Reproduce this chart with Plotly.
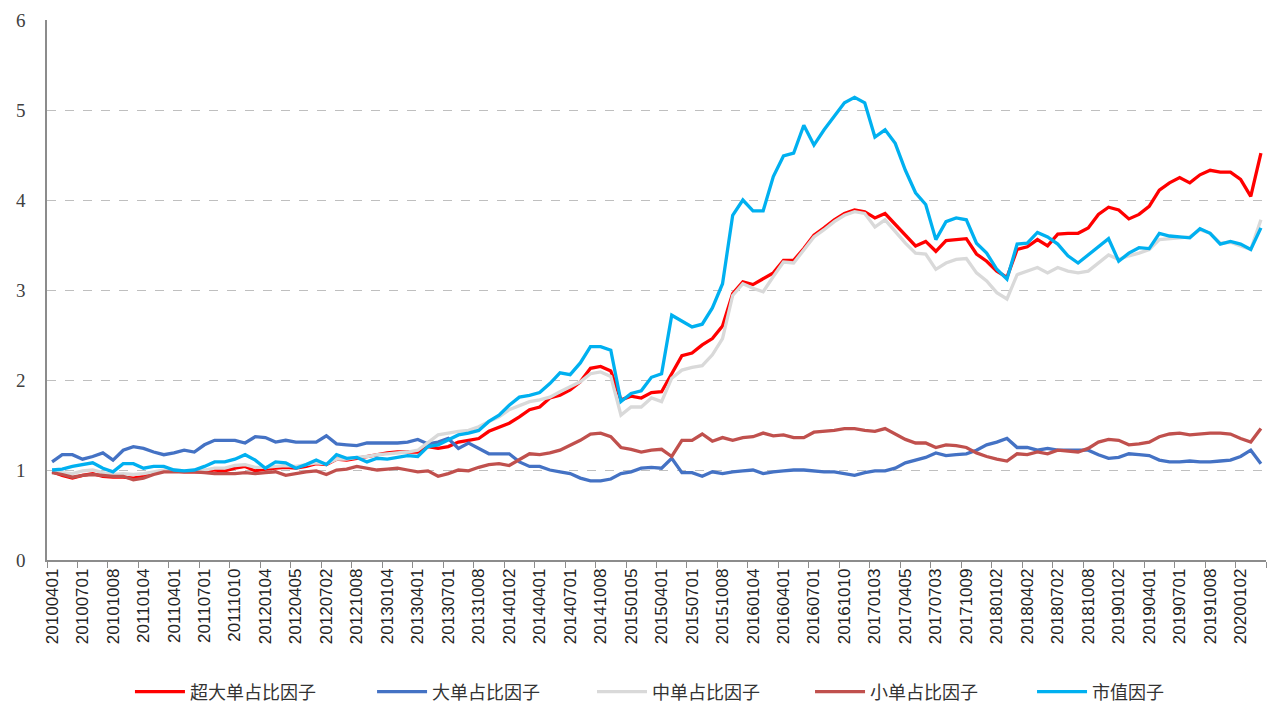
import plotly.graph_objects as go

quarter_labels = [
    "20100401", "20100701", "20101008", "20110104", "20110401", "20110701", "20111010",
    "20120104", "20120405", "20120702", "20121008", "20130104", "20130401", "20130701",
    "20131008", "20140102", "20140401", "20140701", "20141008", "20150105", "20150401",
    "20150701", "20151008", "20160104", "20160401", "20160701", "20161010", "20170103",
    "20170405", "20170703", "20171009", "20180102", "20180402", "20180702", "20181008",
    "20190102", "20190401", "20190701", "20191008", "20200102",
]

super_large = [
    0.98, 0.94, 0.91, 0.94, 0.96, 0.93, 0.92, 0.92, 0.91, 0.93,
    0.96, 0.99, 0.99, 0.98, 0.98, 0.98, 1.00, 0.99, 1.02, 1.04,
    0.99, 1.01, 1.02, 1.03, 1.02, 1.04, 1.07, 1.06, 1.12, 1.11,
    1.13, 1.15, 1.17, 1.19, 1.20, 1.20, 1.20, 1.26, 1.24, 1.26,
    1.31, 1.33, 1.35, 1.43, 1.48, 1.52, 1.59, 1.67, 1.70, 1.80,
    1.83, 1.89, 1.98, 2.13, 2.15, 2.10, 1.78, 1.82, 1.80, 1.86,
    1.87, 2.07, 2.27, 2.30, 2.39, 2.46, 2.60, 2.96, 3.09, 3.06,
    3.13, 3.19, 3.33, 3.33, 3.46, 3.61, 3.69, 3.78, 3.85, 3.89,
    3.87, 3.80, 3.85, 3.73, 3.60, 3.49, 3.54, 3.43, 3.55, 3.56,
    3.57, 3.40, 3.32, 3.21, 3.14, 3.45, 3.48, 3.56, 3.49, 3.62,
    3.63, 3.63, 3.69, 3.84, 3.92, 3.89, 3.79, 3.84, 3.93, 4.11,
    4.19, 4.25, 4.19, 4.28, 4.33, 4.31, 4.31, 4.23, 4.04, 4.52,
]

large = [
    1.09, 1.17, 1.17, 1.12, 1.15, 1.19, 1.11, 1.22, 1.26, 1.24,
    1.20, 1.17, 1.19, 1.22, 1.20, 1.28, 1.33, 1.33, 1.33, 1.30,
    1.37, 1.36, 1.31, 1.33, 1.31, 1.31, 1.31, 1.38, 1.29, 1.28,
    1.27, 1.30, 1.30, 1.30, 1.30, 1.31, 1.34, 1.29, 1.31, 1.35,
    1.24, 1.30, 1.24, 1.18, 1.18, 1.18, 1.09, 1.04, 1.04, 1.00,
    0.98, 0.96, 0.91, 0.88, 0.88, 0.90, 0.96, 0.98, 1.02, 1.03,
    1.02, 1.13, 0.97, 0.97, 0.93, 0.98, 0.96, 0.98, 0.99, 1.00,
    0.96, 0.98, 0.99, 1.00, 1.00, 0.99, 0.98, 0.98, 0.96, 0.94,
    0.97, 0.99, 0.99, 1.02, 1.08, 1.11, 1.14, 1.19, 1.16, 1.17,
    1.18, 1.22, 1.28, 1.31, 1.35, 1.25, 1.25, 1.22, 1.24, 1.22,
    1.22, 1.22, 1.22, 1.17, 1.13, 1.14, 1.18, 1.17, 1.16, 1.11,
    1.09, 1.09, 1.10, 1.09, 1.09, 1.10, 1.11, 1.15, 1.22, 1.07,
]

medium = [
    1.00, 0.97, 0.96, 0.99, 1.00, 0.97, 0.95, 0.96, 0.95, 0.96,
    0.98, 1.00, 1.00, 0.99, 0.99, 1.00, 1.02, 1.02, 1.05, 1.06,
    1.03, 1.03, 1.04, 1.05, 1.04, 1.06, 1.08, 1.07, 1.12, 1.12,
    1.14, 1.15, 1.17, 1.18, 1.19, 1.20, 1.22, 1.31, 1.39, 1.41,
    1.43, 1.44, 1.48, 1.54, 1.59, 1.67, 1.72, 1.76, 1.78, 1.81,
    1.87, 1.93, 1.98, 2.07, 2.09, 2.04, 1.61, 1.70, 1.70, 1.80,
    1.76, 2.02, 2.11, 2.14, 2.16, 2.28, 2.46, 2.94, 3.07, 3.02,
    2.98, 3.15, 3.31, 3.30, 3.44, 3.59, 3.67, 3.76, 3.83, 3.87,
    3.85, 3.70, 3.78, 3.65, 3.52, 3.41, 3.40, 3.23, 3.30, 3.34,
    3.35, 3.19, 3.10, 2.97, 2.90, 3.17, 3.21, 3.25, 3.19, 3.25,
    3.21, 3.19, 3.21, 3.30, 3.39, 3.34, 3.38, 3.41, 3.45, 3.56,
    3.57, 3.58, 3.59, 3.67, 3.63, 3.52, 3.53, 3.49, 3.45, 3.78,
]

small = [
    0.97, 0.95, 0.92, 0.94, 0.95, 0.94, 0.93, 0.93, 0.89, 0.91,
    0.95, 0.98, 0.98, 0.98, 0.98, 0.97, 0.96, 0.96, 0.96, 0.97,
    0.96, 0.97, 0.98, 0.94, 0.96, 0.98, 0.99, 0.95, 1.00, 1.01,
    1.04, 1.02, 1.00, 1.01, 1.02, 1.00, 0.98, 0.99, 0.93, 0.96,
    1.00, 0.99, 1.03, 1.06, 1.07, 1.05, 1.12, 1.18, 1.17, 1.19,
    1.22, 1.27, 1.33, 1.40, 1.41, 1.37, 1.25, 1.23, 1.20, 1.22,
    1.23, 1.15, 1.33, 1.33, 1.40, 1.32, 1.36, 1.33, 1.36, 1.37,
    1.41, 1.38, 1.39, 1.36, 1.36, 1.42, 1.43, 1.44, 1.46, 1.46,
    1.44, 1.43, 1.46, 1.40, 1.34, 1.30, 1.30, 1.25, 1.28, 1.27,
    1.25, 1.19, 1.15, 1.12, 1.10, 1.18, 1.17, 1.20, 1.18, 1.22,
    1.21, 1.20, 1.24, 1.31, 1.34, 1.33, 1.28, 1.29, 1.31, 1.37,
    1.40, 1.41, 1.39, 1.40, 1.41, 1.41, 1.40, 1.35, 1.31, 1.46,
]

market_cap = [
    1.00, 1.01, 1.04, 1.06, 1.08, 1.02, 0.98, 1.07, 1.07, 1.02,
    1.04, 1.04, 1.00, 0.99, 1.00, 1.04, 1.09, 1.09, 1.12, 1.17,
    1.11, 1.02, 1.09, 1.08, 1.02, 1.06, 1.11, 1.06, 1.17, 1.13,
    1.14, 1.09, 1.13, 1.12, 1.14, 1.16, 1.15, 1.26, 1.28, 1.33,
    1.39, 1.41, 1.44, 1.54, 1.61, 1.72, 1.81, 1.83, 1.86, 1.96,
    2.08, 2.06, 2.19, 2.37, 2.37, 2.33, 1.76, 1.85, 1.88, 2.03,
    2.07, 2.72, 2.65, 2.59, 2.62, 2.80, 3.07, 3.83, 4.00, 3.88,
    3.88, 4.26, 4.49, 4.52, 4.83, 4.61, 4.78, 4.93, 5.08, 5.14,
    5.08, 4.70, 4.78, 4.63, 4.33, 4.08, 3.95, 3.56, 3.76, 3.80,
    3.78, 3.52, 3.41, 3.23, 3.12, 3.51, 3.52, 3.64, 3.59, 3.51,
    3.38, 3.30, 3.39, 3.49, 3.57, 3.32, 3.41, 3.47, 3.46, 3.63,
    3.60, 3.59, 3.58, 3.68, 3.63, 3.51, 3.54, 3.51, 3.45, 3.69,
]

series_names = ["超大单占比因子", "大单占比因子", "中单占比因子", "小单占比因子", "市值因子"]
series_values = [super_large, large, medium, small, market_cap]
series_colors = ["#FF0000", "#4472C4", "#D9D9D9", "#C0504D", "#00B0F0"]
legend_ids = ["legend", "legend2", "legend3", "legend4", "legend5"]
legend_x = [0.0952, 0.2842, 0.4559, 0.6261, 0.7994]

n = len(super_large)
x = list(range(n))

fig = go.Figure()
for name, vals, col, lid in zip(series_names, series_values, series_colors, legend_ids):
    fig.add_trace(go.Scatter(
        x=x, y=vals, mode="lines", name=name, legend=lid,
        line=dict(color=col, width=3.3),
    ))

legend_common = dict(
    orientation="h", xref="container", xanchor="left",
    yref="container", y=0.05, yanchor="middle",
    font=dict(family="Noto Sans CJK SC", size=18, color="#333333"),
    itemwidth=50, bgcolor="rgba(0,0,0,0)",
)

layout_legends = {lid: dict(legend_common, x=lx) for lid, lx in zip(legend_ids, legend_x)}

fig.update_layout(
    width=1281, height=720,
    margin=dict(l=39, r=23, t=12, b=168, autoexpand=False),
    paper_bgcolor="white", plot_bgcolor="white",
    showlegend=True,
    **layout_legends,
)

fig.update_xaxes(
    range=[-0.5, n - 0.5],
    tickmode="array",
    tickvals=list(range(0, n, 3)),
    ticktext=quarter_labels,
    tickangle=-90,
    ticks="",
    automargin=False,
    tickfont=dict(family="Liberation Sans", size=17, color="#222222"),
    showgrid=False, zeroline=False,
    showline=True, linecolor="#8C8C8C", linewidth=1.5,
    minor=dict(ticks="outside", ticklen=6, tickcolor="#8C8C8C", tick0=-0.5, dtick=3, showgrid=False),
)

fig.update_yaxes(
    range=[0, 6],
    tickvals=[0, 1, 2, 3, 4, 5, 6],
    ticks="",
    automargin=False,
    tickfont=dict(family="Liberation Serif", size=19, color="#404040"),
    ticklabelstandoff=16,
    showgrid=True, gridcolor="#BFBFBF", griddash="dash", gridwidth=1,
    zeroline=False,
    showline=True, linecolor="#8C8C8C", linewidth=1.5,
)

fig.write_html("out.html")
